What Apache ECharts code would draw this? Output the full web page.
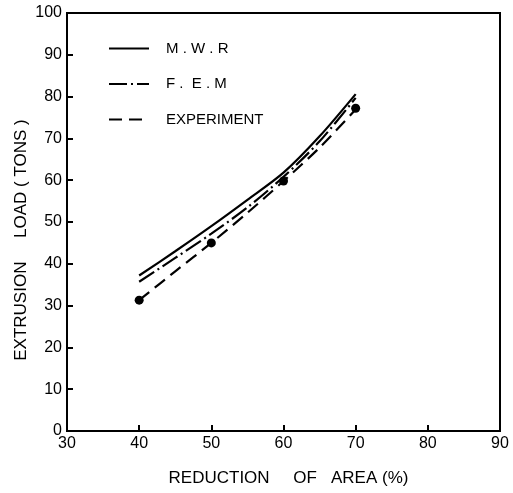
<!DOCTYPE html>
<html>
<head>
<meta charset="UTF-8">
<script src="https://cdn.jsdelivr.net/npm/echarts/dist/echarts.min.js"></script>
<style>
  body { margin: 0; padding: 0; background: #fff; }
  #main { width: 513px; height: 493px; }
</style>
</head>
<body>
<div id="main"></div>
<script>
  // values
  var reduction = [40, 45, 50, 55, 60, 65, 70];
  var mwr = [37.2, 43, 49, 55.3, 61.8, 70.5, 80.6];
  var fem = [35.7, 41.4, 47.2, 53.5, 60.8, 69.3, 79.7];
  var expFit = [31.3, 38.2, 45, 52.2, 59.8, 67.8, 76.9];
  // measured points (dots)
  var expX = [40, 50, 60, 70];
  var expY = [31.3, 45, 59.8, 77.2];

  function pairs(xs, ys) {
    return xs.map(function (x, i) { return [x, ys[i]]; });
  }

  var chart = echarts.init(document.getElementById('main'));
  var font = 'Liberation Sans';

  chart.setOption({
    animation: false,
    backgroundColor: '#fff',
    grid: {
      left: 67, right: 13, top: 13, bottom: 62,
      show: true, borderColor: '#000', borderWidth: 2
    },
    legend: {
      orient: 'vertical',
      left: 103, top: 36,
      itemWidth: 40, itemHeight: 14, itemGap: 20.5,
      itemStyle: { color: 'transparent', borderWidth: 0 },
      textStyle: { fontFamily: font, fontSize: 15, color: '#000', padding: [0, 0, 0, 12] },
      data: ['M . W . R', 'F .  E . M', 'EXPERIMENT']
    },
    xAxis: {
      type: 'value', min: 30, max: 90, interval: 10,
      name: 'REDUCTION     OF   AREA (%)',
      nameLocation: 'middle', nameGap: 39, nameMoveOverlap: false,
      nameTextStyle: { fontFamily: font, fontSize: 17, color: '#000', padding: [0, 0, 0, 10] },
      axisLine: { lineStyle: { color: '#000', width: 2 } },
      axisTick: { inside: true, length: 6, lineStyle: { color: '#000', width: 2 } },
      axisLabel: { fontFamily: font, fontSize: 16, color: '#000', margin: 5 },
      splitLine: { show: false }
    },
    yAxis: {
      type: 'value', min: 0, max: 100, interval: 10,
      name: 'EXTRUSION     LOAD ( TONS )',
      nameLocation: 'middle', nameGap: 37, nameMoveOverlap: false,
      nameTextStyle: { fontFamily: font, fontSize: 17, color: '#000', padding: [0, 36, 0, 0] },
      axisLine: { lineStyle: { color: '#000', width: 2 } },
      axisTick: { inside: true, length: 6, lineStyle: { color: '#000', width: 2 } },
      axisLabel: { fontFamily: font, fontSize: 16, color: '#000', margin: 5 },
      splitLine: { show: false }
    },
    series: [
      {
        name: 'M . W . R', type: 'line', smooth: 0.3, symbol: 'none',
        lineStyle: { color: '#000', width: 2.2 },
        itemStyle: { color: '#000' },
        data: pairs(reduction, mwr)
      },
      {
        name: 'F .  E . M', type: 'line', smooth: 0.3, symbol: 'none',
        lineStyle: { color: '#000', width: 2.2, type: [18, 4, 2, 4] },
        itemStyle: { color: '#000' },
        data: pairs(reduction, fem)
      },
      {
        name: 'EXPERIMENT', type: 'line', smooth: 0.3, symbol: 'none',
        lineStyle: { color: '#000', width: 2.2, type: [13, 7] },
        itemStyle: { color: '#000' },
        data: pairs(reduction, expFit)
      },
      {
        name: 'points', type: 'scatter', symbol: 'circle', symbolSize: 9,
        itemStyle: { color: '#000', opacity: 1 },
        data: pairs(expX, expY)
      }
    ]
  });
</script>
</body>
</html>
